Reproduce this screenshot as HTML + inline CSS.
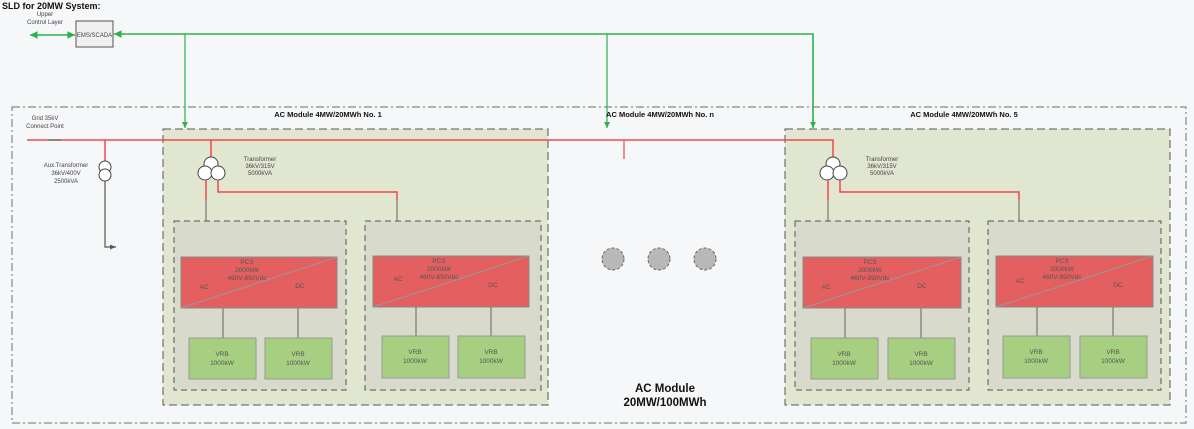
<!DOCTYPE html>
<html><head><meta charset="utf-8"><style>
html,body{margin:0;padding:0;background:#f6f7f9;}
svg{display:block;font-family:"Liberation Sans",sans-serif;}
.s{font-size:6px;fill:#444;text-anchor:middle}
.p{font-size:6.5px;fill:#555;text-anchor:middle}
.b{font-weight:bold;fill:#111}
</style></head><body>
<svg width="1194" height="429" viewBox="0 0 1194 429" xmlns="http://www.w3.org/2000/svg">
<defs>
<marker id="ga" markerWidth="6" markerHeight="6" refX="5" refY="3" orient="auto"><path d="M0,0.5 L5,3 L0,5.5z" fill="#2bb24c"/></marker>
<marker id="gs" markerWidth="6" markerHeight="6" refX="1" refY="3" orient="auto"><path d="M6,0.5 L1,3 L6,5.5z" fill="#2bb24c"/></marker>
<marker id="ka" markerWidth="6" markerHeight="6" refX="5" refY="3" orient="auto"><path d="M0,1 L5,3 L0,5z" fill="#555"/></marker>
</defs>
<text x="2" y="9" class="b" font-size="9">SLD for 20MW System:</text>
<text x="45" y="16" class="s">Upper</text>
<text x="45" y="24" class="s">Control Layer</text>
<line x1="30" y1="35" x2="75" y2="35" stroke="#2bb24c" stroke-width="1.5" marker-start="url(#gs)" marker-end="url(#ga)"/>
<rect x="76" y="21" width="37" height="26" fill="#f0f0f0" stroke="#555"/>
<text x="94.5" y="37" class="s" font-size="6">EMS/SCADA</text>
<polyline points="813,128 813,34 114,34" fill="none" stroke="#2bb24c" stroke-width="1.5" marker-end="url(#ga)"/>
<line x1="185" y1="34" x2="185" y2="128" stroke="#2bb24c" stroke-width="1.2" marker-end="url(#ga)"/>
<line x1="607" y1="34" x2="607" y2="128" stroke="#2bb24c" stroke-width="1.2" marker-end="url(#ga)"/>
<line x1="813" y1="34" x2="813" y2="128" stroke="#2bb24c" stroke-width="1.2" marker-end="url(#ga)"/>

<rect x="12" y="107" width="1174" height="316" fill="none" stroke="#888" stroke-width="1.2" stroke-dasharray="8,3,2,3"/>
<text x="45" y="120" class="s">Grid 35kV</text>
<text x="45" y="128" class="s">Connect Point</text>
<text x="328" y="117" class="b" font-size="7.5" text-anchor="middle">AC Module 4MW/20MWh No. 1</text>
<text x="660" y="117" class="b" font-size="7.5" text-anchor="middle">AC Module 4MW/20MWh No. n</text>
<text x="964" y="117" class="b" font-size="7.5" text-anchor="middle">AC Module 4MW/20MWh No. 5</text>

<!-- module boxes -->
<rect x="163" y="129" width="385" height="276" fill="#e1e6d0" stroke="#555" stroke-dasharray="8,4"/>
<rect x="785" y="129" width="385" height="276" fill="#e1e6d0" stroke="#555" stroke-dasharray="8,4"/>

<!-- red bus -->
<polyline points="27,140 833,140 833,158" fill="none" stroke="#f04848" stroke-width="1.5"/>
<line x1="48" y1="140" x2="61" y2="140" stroke="#777" stroke-width="1.5"/>
<line x1="624" y1="140" x2="624" y2="159" stroke="#f04848" stroke-width="1.2"/>
<line x1="211" y1="140" x2="211" y2="158" stroke="#f04848" stroke-width="1.5"/>
<line x1="105" y1="140" x2="105" y2="163" stroke="#f04848" stroke-width="1.5"/>

<!-- aux transformer -->
<circle cx="105" cy="167" r="6" fill="#fff" stroke="#444"/>
<circle cx="105" cy="175" r="6" fill="#fff" stroke="#444"/>
<polyline points="105,181 105,247 116,247" fill="none" stroke="#555" stroke-width="1.2" marker-end="url(#ka)"/>
<text x="66" y="167" class="s">Aux.Transformer</text>
<text x="66" y="175" class="s">36kV/400V</text>
<text x="66" y="183" class="s">2500kVA</text>

<!-- module1 transformer -->
<g fill="#fff" stroke="#444">
<circle cx="211" cy="164" r="7"/><circle cx="205" cy="173" r="7"/><circle cx="218" cy="173" r="7"/>
<circle cx="833" cy="164" r="7"/><circle cx="827" cy="173" r="7"/><circle cx="840" cy="173" r="7"/>
</g>
<text x="260" y="161" class="s">Transformer</text><text x="260" y="168" class="s">36kV/315V</text><text x="260" y="175" class="s">5000kVA</text>
<text x="882" y="161" class="s">Transformer</text><text x="882" y="168" class="s">36kV/315V</text><text x="882" y="175" class="s">5000kVA</text>
<g fill="none" stroke="#f04848" stroke-width="1.5">
<polyline points="206,180 206,200"/><polyline points="218,180 218,192 397,192 397,200"/>
<polyline points="828,180 828,200"/><polyline points="840,180 840,192 1019,192 1019,200"/>
</g>
<g stroke="#777" stroke-width="1.2">
<line x1="206" y1="200" x2="206" y2="257"/><line x1="397" y1="200" x2="397" y2="257"/>
<line x1="828" y1="200" x2="828" y2="257"/><line x1="1019" y1="200" x2="1019" y2="257"/>
</g>

<!-- sub boxes -->
<g fill="#d8dbcc" stroke="#555" stroke-dasharray="6,4">
<rect x="174" y="221" width="172" height="169"/><rect x="365" y="221" width="176" height="169"/>
<rect x="795" y="221" width="174" height="169"/><rect x="988" y="221" width="173" height="169"/>
</g>
<!-- PCS -->
<g fill="#e45f60" stroke="#888">
<rect x="181" y="257" width="156" height="51"/><rect x="373" y="256" width="156" height="51"/>
<rect x="803" y="257" width="158" height="51"/><rect x="996" y="256" width="157" height="51"/>
</g>
<g stroke="#999" stroke-width="1">
<line x1="181" y1="308" x2="337" y2="257"/><line x1="373" y1="307" x2="529" y2="256"/>
<line x1="803" y1="308" x2="961" y2="257"/><line x1="996" y1="307" x2="1153" y2="256"/>
</g>
<g class="p">
<text x="247" y="264" class="p">PCS</text><text x="247" y="272" class="p">2000kW</text><text x="247" y="280" class="p">460V-850Vdc</text>
<text x="204" y="289" class="p">AC</text><text x="300" y="288" class="p">DC</text>
<text x="439" y="263" class="p">PCS</text><text x="439" y="271" class="p">2000kW</text><text x="439" y="279" class="p">460V-850Vdc</text>
<text x="398" y="281" class="p">AC</text><text x="493" y="287" class="p">DC</text>
<text x="870" y="264" class="p">PCS</text><text x="870" y="272" class="p">2000kW</text><text x="870" y="280" class="p">460V-850Vdc</text>
<text x="826" y="289" class="p">AC</text><text x="922" y="288" class="p">DC</text>
<text x="1062" y="263" class="p">PCS</text><text x="1062" y="271" class="p">2000kW</text><text x="1062" y="279" class="p">460V-850Vdc</text>
<text x="1020" y="283" class="p">AC</text><text x="1118" y="287" class="p">DC</text>
</g>
<g stroke="#777" stroke-width="1.2">
<line x1="223" y1="308" x2="223" y2="338"/><line x1="298" y1="308" x2="298" y2="338"/>
<line x1="416" y1="307" x2="416" y2="338"/><line x1="491" y1="307" x2="491" y2="338"/>
<line x1="845" y1="308" x2="845" y2="338"/><line x1="921" y1="308" x2="921" y2="338"/>
<line x1="1037" y1="307" x2="1037" y2="338"/><line x1="1113" y1="307" x2="1113" y2="338"/>
</g>
<g fill="#a6cf82" stroke="#999">
<rect x="189" y="338" width="67" height="41"/><rect x="265" y="338" width="67" height="41"/>
<rect x="382" y="336" width="67" height="42"/><rect x="458" y="336" width="67" height="42"/>
<rect x="811" y="338" width="67" height="41"/><rect x="888" y="338" width="67" height="41"/>
<rect x="1003" y="336" width="67" height="42"/><rect x="1080" y="336" width="67" height="42"/>
</g>
<g>
<text x="222" y="356" class="p">VRB</text><text x="222" y="365" class="p">1000kW</text>
<text x="298" y="356" class="p">VRB</text><text x="298" y="365" class="p">1000kW</text>
<text x="415" y="354" class="p">VRB</text><text x="415" y="363" class="p">1000kW</text>
<text x="491" y="354" class="p">VRB</text><text x="491" y="363" class="p">1000kW</text>
<text x="844" y="356" class="p">VRB</text><text x="844" y="365" class="p">1000kW</text>
<text x="921" y="356" class="p">VRB</text><text x="921" y="365" class="p">1000kW</text>
<text x="1036" y="354" class="p">VRB</text><text x="1036" y="363" class="p">1000kW</text>
<text x="1113" y="354" class="p">VRB</text><text x="1113" y="363" class="p">1000kW</text>
</g>

<g fill="#b8b8b8" stroke="#666" stroke-dasharray="3,2">
<circle cx="613" cy="259" r="11"/><circle cx="659" cy="259" r="11"/><circle cx="705" cy="259" r="11"/>
</g>
<text x="665" y="392" class="b" font-size="11.5" text-anchor="middle">AC Module</text>
<text x="665" y="406" class="b" font-size="11.5" text-anchor="middle">20MW/100MWh</text>
</svg>
</body></html>
